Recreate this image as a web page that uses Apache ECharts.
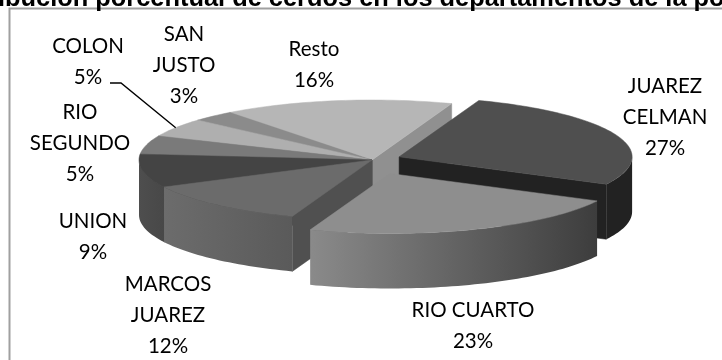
<!DOCTYPE html>
<html>
<head>
<meta charset="utf-8">
<style>html,body{margin:0;padding:0;background:#fff}#chart{width:722px;height:360px}</style>
<script src="https://cdn.jsdelivr.net/npm/echarts@6/dist/echarts.min.js"></script>
</head>
<body>
<div id="chart"></div>
<script>
// Pig stock share per department
const departments = ['JUAREZ\nCELMAN', 'RIO CUARTO', 'MARCOS\nJUAREZ', 'UNION', 'RIO\nSEGUNDO', 'COLON', 'SAN\nJUSTO', 'Resto'];
const shares = [27, 23, 12, 9, 5, 5, 3, 16];
const explode = [0.125, 0.21, 0, 0, 0, 0, 0, 0];

// Grey used for each slice: top face, rim wall (left and right end), cut face
const topColors = ['#4f4f4f', '#8e8e8e', '#6b6b6b', '#444444', '#7a7a7a', '#afafaf', '#8b8b8b', '#b6b6b6'];
const wallLeft = ['#222222', '#8a8a8a', '#6c6c6c', '#4e4e4e', '#777777', '#999999', '#888888', '#aaaaaa'];
const wallRight = ['#222222', '#3d3d3d', '#5a5a5a', '#484848', '#777777', '#999999', '#888888', '#aaaaaa'];
const cutColors = ['#222222', '#666666', '#505050', '#3e3e3e', '#666666', '#888888', '#777777', '#909090'];

// Label centres and the pie's projection
const labelAt = [[665, 117], [473, 325.5], [168, 315], [93, 237], [80, 143], [88, 61.5], [184, 65], [314, 64.5]];
const pie = { cx: 372, cy: 160, rx: 233, ry: 60, depth: 55, startDeg: 20, explodeLift: 1.15 };
const leaderStart = [110, 83];
const leaderElbow = [121, 83];

const DEG = Math.PI / 180;
const total = shares.reduce((a, b) => a + b, 0);
let running = pie.startDeg;
const slices = shares.map((v, i) => {
  const s = running;
  running += v / total * 360;
  const mid = (s + running) / 2;
  const k = explode[i];
  return {
    s, e: running, mid,
    ox: pie.cx + pie.rx * k * Math.sin(mid * DEG),
    oy: pie.cy - pie.ry * k * pie.explodeLift * Math.cos(mid * DEG)
  };
});

// Back slices are painted first
const paintOrder = slices.map((_, i) => i)
  .sort((a, b) => -Math.cos(slices[a].mid * DEG) + Math.cos(slices[b].mid * DEG));
const rank = [];
paintOrder.forEach((idx, r) => { rank[idx] = r; });

function rimPoint(sl, deg, drop) {
  return [sl.ox + pie.rx * Math.sin(deg * DEG), sl.oy - pie.ry * Math.cos(deg * DEG) + drop];
}
function rimArc(sl, from, to, drop) {
  const pts = [];
  const n = Math.max(2, Math.ceil(Math.abs(to - from) / 1.5));
  for (let j = 0; j <= n; j++) pts.push(rimPoint(sl, from + (to - from) * j / n, drop));
  return pts;
}
function renderSlice(params, api) {
  const i = api.value(0);
  const sl = slices[i];
  const base = rank[i] * 10;
  const children = [];
  const apex = [sl.ox, sl.oy];
  const apexLow = [sl.ox, sl.oy + pie.depth];
  const addCut = deg => {
    const a = rimPoint(sl, deg, 0), b = rimPoint(sl, deg, pie.depth);
    children.push({ type: 'polygon', z2: base + 1, shape: { points: [apex, a, b, apexLow] },
      style: { fill: cutColors[i], stroke: cutColors[i], lineWidth: 0.5 } });
  };
  if (Math.sin(sl.s * DEG) < 0) addCut(sl.s);
  if (Math.sin(sl.e * DEG) > 0) addCut(sl.e);
  // Front-facing part of the rim, between 90 and 270 degrees
  for (const shift of [0, 360]) {
    const from = Math.max(sl.s, 90 + shift), to = Math.min(sl.e, 270 + shift);
    if (to > from) {
      const pts = rimArc(sl, from, to, 0).concat(rimArc(sl, to, from, pie.depth));
      children.push({ type: 'polygon', z2: base + 2, shape: { points: pts },
        style: {
          fill: new echarts.graphic.LinearGradient(0, 0, 1, 0, [
            { offset: 0, color: wallLeft[i] }, { offset: 1, color: wallRight[i] }]),
          stroke: null
        } });
    }
  }
  children.push({ type: 'polygon', z2: base + 3,
    shape: { points: [apex].concat(rimArc(sl, sl.s, sl.e, 0)) },
    style: { fill: topColors[i], stroke: topColors[i], lineWidth: 0.5 } });
  // Department name and share
  children.push({ type: 'text', z2: 500,
    style: {
      text: departments[i] + '\n' + api.value(1) + '%',
      x: labelAt[i][0], y: labelAt[i][1],
      align: 'center', verticalAlign: 'middle',
      font: '20.5px Lato, "Noto Sans", sans-serif', lineHeight: 31, fill: '#000000'
    } });
  return { type: 'group', children };
}

const colonTip = rimPoint(slices[5], slices[5].mid, 0);

const chart = echarts.init(document.getElementById('chart'), null, { renderer: 'canvas' });
chart.setOption({
  animation: false,
  backgroundColor: '#ffffff',
  graphic: [
    { type: 'polyline', z: 1, shape: { points: [[9.5, 360], [9.5, 8.5], [722, 8.5]] },
      style: { stroke: '#a0a0a0', lineWidth: 2, fill: null } },
    { type: 'text', z: 10, style: {
        text: 'ibución porcentual de cerdos en los departamentos de la po',
        x: -2, y: 11, verticalAlign: 'bottom',
        font: 'bold 25.4px "Liberation Sans", Arial, sans-serif', fill: '#000000' } },
    { type: 'polyline', z: 10, shape: { points: [leaderStart, leaderElbow, colonTip] },
      style: { stroke: '#000000', lineWidth: 1.4, fill: null } }
  ],
  series: [{
    type: 'custom',
    coordinateSystem: 'none',
    renderItem: renderSlice,
    silent: true,
    clip: false,
    data: shares.map((v, i) => [i, v])
  }]
});
</script>
</body>
</html>
